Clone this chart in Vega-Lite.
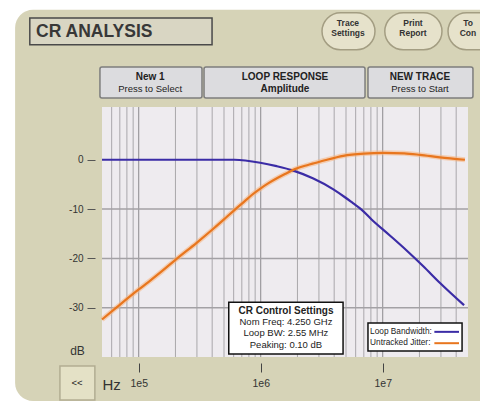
{
  "$schema": "https://vega.github.io/schema/vega-lite/v6.json",
  "width": 366,
  "height": 250,
  "autosize": {"type": "none"},
  "padding": {"left": 102, "top": 107, "right": 12, "bottom": 47},
  "background": "#ffffff",
  "config": {
    "view": {"fill": null, "stroke": "#7a7a72", "strokeWidth": 1.5},
    "font": "Liberation Sans",
    "text": {"font": "Liberation Sans"}
  },
  "datasets": {
    "curves": [
      {"f": 50000, "db": 0, "series": "Loop Bandwidth:"},
      {"f": 200000, "db": 0, "series": "Loop Bandwidth:"},
      {"f": 610000, "db": 0, "series": "Loop Bandwidth:"},
      {"f": 990000, "db": -0.6, "series": "Loop Bandwidth:"},
      {"f": 1350000, "db": -1.3, "series": "Loop Bandwidth:"},
      {"f": 1850000, "db": -2.2, "series": "Loop Bandwidth:"},
      {"f": 2700000, "db": -3.8, "series": "Loop Bandwidth:"},
      {"f": 3940000, "db": -6.0, "series": "Loop Bandwidth:"},
      {"f": 4900000, "db": -7.6, "series": "Loop Bandwidth:"},
      {"f": 5700000, "db": -8.8, "series": "Loop Bandwidth:"},
      {"f": 6700000, "db": -10.1, "series": "Loop Bandwidth:"},
      {"f": 8100000, "db": -12.1, "series": "Loop Bandwidth:"},
      {"f": 11500000, "db": -15.4, "series": "Loop Bandwidth:"},
      {"f": 15700000, "db": -18.4, "series": "Loop Bandwidth:"},
      {"f": 21500000, "db": -21.6, "series": "Loop Bandwidth:"},
      {"f": 29500000, "db": -25.0, "series": "Loop Bandwidth:"},
      {"f": 46400000, "db": -29.5, "series": "Loop Bandwidth:"},
      {"f": 50000, "db": -32.4, "series": "Untracked Jitter:"},
      {"f": 64000, "db": -30.2, "series": "Untracked Jitter:"},
      {"f": 100000, "db": -26.3, "series": "Untracked Jitter:"},
      {"f": 120000, "db": -24.8, "series": "Untracked Jitter:"},
      {"f": 155000, "db": -22.6, "series": "Untracked Jitter:"},
      {"f": 200000, "db": -20.3, "series": "Untracked Jitter:"},
      {"f": 300000, "db": -16.8, "series": "Untracked Jitter:"},
      {"f": 400000, "db": -14.2, "series": "Untracked Jitter:"},
      {"f": 500000, "db": -12.1, "series": "Untracked Jitter:"},
      {"f": 615000, "db": -10.1, "series": "Untracked Jitter:"},
      {"f": 740000, "db": -8.4, "series": "Untracked Jitter:"},
      {"f": 840000, "db": -7.2, "series": "Untracked Jitter:"},
      {"f": 1000000, "db": -5.8, "series": "Untracked Jitter:"},
      {"f": 1150000, "db": -4.8, "series": "Untracked Jitter:"},
      {"f": 1580000, "db": -2.9, "series": "Untracked Jitter:"},
      {"f": 1910000, "db": -1.9, "series": "Untracked Jitter:"},
      {"f": 2400000, "db": -1.1, "series": "Untracked Jitter:"},
      {"f": 2790000, "db": -0.65, "series": "Untracked Jitter:"},
      {"f": 3360000, "db": -0.1, "series": "Untracked Jitter:"},
      {"f": 4750000, "db": 0.8, "series": "Untracked Jitter:"},
      {"f": 7000000, "db": 1.25, "series": "Untracked Jitter:"},
      {"f": 10100000, "db": 1.4, "series": "Untracked Jitter:"},
      {"f": 15000000, "db": 1.3, "series": "Untracked Jitter:"},
      {"f": 20200000, "db": 1.0, "series": "Untracked Jitter:"},
      {"f": 29400000, "db": 0.5, "series": "Untracked Jitter:"},
      {"f": 47200000, "db": 0, "series": "Untracked Jitter:"}
    ],
    "gridx": [
      {"f": 60000, "kind": "minor"}, {"f": 70000, "kind": "minor"}, {"f": 80000, "kind": "minor"}, {"f": 90000, "kind": "minor"},
      {"f": 100000, "kind": "major"},
      {"f": 200000, "kind": "minor"}, {"f": 300000, "kind": "minor"}, {"f": 400000, "kind": "minor"}, {"f": 500000, "kind": "minor"},
      {"f": 600000, "kind": "minor"}, {"f": 700000, "kind": "minor"}, {"f": 800000, "kind": "minor"}, {"f": 900000, "kind": "minor"},
      {"f": 1000000, "kind": "major"},
      {"f": 2000000, "kind": "minor"}, {"f": 3000000, "kind": "minor"}, {"f": 4000000, "kind": "minor"}, {"f": 5000000, "kind": "minor"},
      {"f": 6000000, "kind": "minor"}, {"f": 7000000, "kind": "minor"}, {"f": 8000000, "kind": "minor"}, {"f": 9000000, "kind": "minor"},
      {"f": 10000000, "kind": "major"},
      {"f": 20000000, "kind": "minor"}, {"f": 30000000, "kind": "minor"}, {"f": 40000000, "kind": "minor"}
    ],
    "gridy": [{"db": -10}, {"db": -20}, {"db": -30}],
    "boxes": [
      {"kind": "panel", "f1": 9700, "f2": 200000000, "d1": 30.4, "d2": -48.9},
      {"kind": "plotbg", "f1": 50000, "f2": 50000000, "d1": 10.7, "d2": -40},
      {"kind": "titlebox", "f1": 12800, "f2": 399000, "d1": 28.75, "d2": 23.3},
      {"kind": "round", "f1": 3180000, "f2": 8640000, "d1": 29.8, "d2": 22.3},
      {"kind": "round", "f1": 10400000, "f2": 30600000, "d1": 29.8, "d2": 22.3},
      {"kind": "round", "f1": 34300000, "f2": 91500000, "d1": 29.8, "d2": 22.3},
      {"kind": "flat", "f1": 48100, "f2": 330000, "d1": 18.8, "d2": 12.5},
      {"kind": "flat", "f1": 343000, "f2": 7160000, "d1": 18.8, "d2": 12.5},
      {"kind": "flat", "f1": 7570000, "f2": 54900000, "d1": 18.8, "d2": 12.5},
      {"kind": "back", "f1": 22600, "f2": 43700, "d1": -41.8, "d2": -48.7},
      {"kind": "info", "f1": 547000, "f2": 4730000, "d1": -28.9, "d2": -39.4},
      {"kind": "legend", "f1": 7570000, "f2": 44700000, "d1": -33.1, "d2": -38.8}
    ],
    "labels": [
      {"t": "CR ANALYSIS", "f": 14400, "d": 25.9, "kind": "title"},
      {"t": "Trace", "f": 5190000, "d": 27.65, "kind": "round"},
      {"t": "Settings", "f": 5190000, "d": 25.8, "kind": "round"},
      {"t": "Print", "f": 17700000, "d": 27.65, "kind": "round"},
      {"t": "Report", "f": 17700000, "d": 25.8, "kind": "round"},
      {"t": "To", "f": 50000000, "d": 27.65, "kind": "round"},
      {"t": "Con", "f": 50000000, "d": 25.8, "kind": "round"},
      {"t": "New 1", "f": 124000, "d": 16.7, "kind": "btnb"},
      {"t": "LOOP RESPONSE", "f": 1580000, "d": 16.7, "kind": "btnb"},
      {"t": "NEW TRACE", "f": 20200000, "d": 16.7, "kind": "btnb"},
      {"t": "Amplitude", "f": 1580000, "d": 14.45, "kind": "btnb"},
      {"t": "Press to Select", "f": 124000, "d": 14.45, "kind": "btn"},
      {"t": "Press to Start", "f": 20200000, "d": 14.45, "kind": "btn"},
      {"t": "<<", "f": 31200, "d": -45.3, "kind": "back"},
      {"t": "CR Control Settings", "f": 1610000, "d": -30.6, "kind": "infob"},
      {"t": "Nom Freq: 4.250 GHz", "f": 1610000, "d": -32.85, "kind": "info"},
      {"t": "Loop BW: 2.55 MHz", "f": 1610000, "d": -35.2, "kind": "info"},
      {"t": "Peaking: 0.10 dB", "f": 1610000, "d": -37.6, "kind": "info"},
      {"t": "Loop Bandwidth:", "f": 7870000, "d": -34.9, "kind": "legend"},
      {"t": "Untracked Jitter:", "f": 7870000, "d": -37.2, "kind": "legend"}
    ],
    "legendlines": [
      {"series": "Loop Bandwidth:", "f1": 26500000, "f2": 42200000, "d": -34.9},
      {"series": "Untracked Jitter:", "f1": 26500000, "f2": 42200000, "d": -37.2}
    ]
  },
  "layer": [
    {
      "data": {"name": "boxes"},
      "transform": [{"filter": "datum.kind == 'panel'"}],
      "mark": {"type": "rect", "fill": "#d6d3b7", "cornerRadius": 18},
      "encoding": {
        "x": {
          "field": "f1", "type": "quantitative",
          "scale": {"type": "log", "domain": [50000, 50000000], "nice": false},
          "axis": {
            "zindex": 1,
            "values": [100000, 1000000, 10000000],
            "labelExpr": "datum.value == 100000 ? '1e5' : datum.value == 1000000 ? '1e6' : '1e7'",
            "grid": false, "domain": false, "offset": 6, "tickSize": 9, "tickColor": "#444444", "tickWidth": 1,
            "labelPadding": 6, "labelFontSize": 10.5, "labelColor": "#333333", "labelFlush": false, "labelOverlap": false,
            "title": "Hz", "titleFontSize": 15, "titleFontWeight": "normal", "titleColor": "#333333",
            "titleAnchor": "start", "titleAlign": "left", "titleX": 0, "titleY": 21, "titleBaseline": "middle"
          }
        },
        "x2": {"field": "f2"},
        "y": {
          "field": "d1", "type": "quantitative",
          "scale": {"domain": [-40, 10.7], "nice": false, "zero": false},
          "axis": {
            "zindex": 1,
            "values": [0, -10, -20, -30],
            "labelExpr": "datum.value + ''",
            "grid": false, "domain": false, "offset": 7, "tickSize": 8, "tickColor": "#555555", "tickWidth": 1,
            "labelPadding": 4, "labelFontSize": 10, "labelColor": "#333333",
            "title": "dB", "titleAngle": 0, "titleX": -18, "titleY": 243, "titleAlign": "center", "titleBaseline": "middle",
            "titleFontSize": 12, "titleFontWeight": "normal", "titleColor": "#333333"
          }
        },
        "y2": {"field": "d2"}
      }
    },
    {
      "data": {"name": "boxes"},
      "transform": [{"filter": "datum.kind == 'plotbg'"}],
      "mark": {"type": "rect", "fill": "#eeebef"},
      "encoding": {
        "x": {"field": "f1", "type": "quantitative"},
        "x2": {"field": "f2"},
        "y": {"field": "d1", "type": "quantitative"},
        "y2": {"field": "d2"}
      }
    },
    {
      "data": {"name": "boxes"},
      "transform": [{"filter": "datum.kind == 'titlebox'"}],
      "mark": {"type": "rect", "fill": "#d9d6c3", "stroke": "#4a4a4a", "strokeWidth": 1.5},
      "encoding": {
        "x": {"field": "f1", "type": "quantitative"},
        "x2": {"field": "f2"},
        "y": {"field": "d1", "type": "quantitative"},
        "y2": {"field": "d2"}
      }
    },
    {
      "data": {"name": "boxes"},
      "transform": [{"filter": "datum.kind == 'round'"}],
      "mark": {"type": "rect", "fill": "#e6e2cb", "stroke": "#a39d82", "strokeWidth": 1.5, "cornerRadius": 19},
      "encoding": {
        "x": {"field": "f1", "type": "quantitative"},
        "x2": {"field": "f2"},
        "y": {"field": "d1", "type": "quantitative"},
        "y2": {"field": "d2"}
      }
    },
    {
      "data": {"name": "boxes"},
      "transform": [{"filter": "datum.kind == 'flat'"}],
      "mark": {"type": "rect", "fill": "#dcdcdf", "stroke": "#7d7d7d", "strokeWidth": 1.5, "cornerRadius": 2},
      "encoding": {
        "x": {"field": "f1", "type": "quantitative"},
        "x2": {"field": "f2"},
        "y": {"field": "d1", "type": "quantitative"},
        "y2": {"field": "d2"}
      }
    },
    {
      "data": {"name": "boxes"},
      "transform": [{"filter": "datum.kind == 'back'"}],
      "mark": {"type": "rect", "fill": "#e4e1c6", "stroke": "#b2ad92", "strokeWidth": 1.5},
      "encoding": {
        "x": {"field": "f1", "type": "quantitative"},
        "x2": {"field": "f2"},
        "y": {"field": "d1", "type": "quantitative"},
        "y2": {"field": "d2"}
      }
    },
    {
      "data": {"name": "gridx"},
      "transform": [{"filter": "datum.kind == 'minor'"}],
      "mark": {"type": "rule", "color": "#a9a7ab", "strokeWidth": 1},
      "encoding": {"x": {"field": "f", "type": "quantitative"}}
    },
    {
      "data": {"name": "gridx"},
      "transform": [{"filter": "datum.kind == 'major'"}],
      "mark": {"type": "rule", "color": "#8c8a8e", "strokeWidth": 1},
      "encoding": {"x": {"field": "f", "type": "quantitative"}}
    },
    {
      "data": {"name": "gridy"},
      "mark": {"type": "rule", "color": "#a3a1a5", "strokeWidth": 1.5},
      "encoding": {"y": {"field": "db", "type": "quantitative"}}
    },
    {
      "mark": {"type": "rule", "color": "#767478", "strokeWidth": 1.5},
      "encoding": {"y": {"datum": 0, "type": "quantitative"}}
    },
    {
      "mark": {"type": "rule", "color": "#5ec4d6", "strokeWidth": 1.5, "strokeDash": [3, 3]},
      "encoding": {"y": {"datum": -2.5, "type": "quantitative"}}
    },
    {
      "mark": {"type": "rule", "color": "#3a2a36", "strokeWidth": 3},
      "encoding": {"x": {"datum": 50000, "type": "quantitative"}}
    },
    {
      "data": {"name": "curves"},
      "transform": [{"filter": "datum.series == 'Untracked Jitter:'"}],
      "mark": {"type": "line", "color": "#f7b480", "strokeWidth": 5, "opacity": 0.55, "interpolate": "monotone"},
      "encoding": {
        "x": {"field": "f", "type": "quantitative"},
        "y": {"field": "db", "type": "quantitative"}
      }
    },
    {
      "data": {"name": "curves"},
      "mark": {"type": "line", "strokeWidth": 2.2, "interpolate": "monotone"},
      "encoding": {
        "x": {"field": "f", "type": "quantitative"},
        "y": {"field": "db", "type": "quantitative"},
        "color": {"field": "series", "type": "nominal", "scale": {"domain": ["Loop Bandwidth:", "Untracked Jitter:"], "range": ["#3b2ca6", "#e8761e"]}, "legend": null}
      }
    },
    {
      "data": {"name": "boxes"},
      "transform": [{"filter": "datum.kind == 'info' || datum.kind == 'legend'"}],
      "mark": {"type": "rect", "fill": "#ffffff", "stroke": "#111111", "strokeWidth": 1.5},
      "encoding": {
        "x": {"field": "f1", "type": "quantitative"},
        "x2": {"field": "f2"},
        "y": {"field": "d1", "type": "quantitative"},
        "y2": {"field": "d2"}
      }
    },
    {
      "data": {"name": "legendlines"},
      "mark": {"type": "rule", "strokeWidth": 2},
      "encoding": {
        "x": {"field": "f1", "type": "quantitative"},
        "x2": {"field": "f2"},
        "y": {"field": "d", "type": "quantitative"},
        "color": {"field": "series", "type": "nominal", "legend": null}
      }
    },
    {
      "data": {"name": "labels"},
      "transform": [{"filter": "datum.kind == 'title'"}],
      "mark": {"type": "text", "align": "left", "baseline": "middle", "fontSize": 17.5, "fontWeight": "bold", "color": "#383838"},
      "encoding": {
        "x": {"field": "f", "type": "quantitative"},
        "y": {"field": "d", "type": "quantitative"},
        "text": {"field": "t"}
      }
    },
    {
      "data": {"name": "labels"},
      "transform": [{"filter": "datum.kind == 'round'"}],
      "mark": {"type": "text", "align": "center", "baseline": "middle", "fontSize": 8.5, "fontWeight": "bold", "color": "#333333"},
      "encoding": {
        "x": {"field": "f", "type": "quantitative"},
        "y": {"field": "d", "type": "quantitative"},
        "text": {"field": "t"}
      }
    },
    {
      "data": {"name": "labels"},
      "transform": [{"filter": "datum.kind == 'btnb' || datum.kind == 'infob'"}],
      "mark": {"type": "text", "align": "center", "baseline": "middle", "fontSize": 10, "fontWeight": "bold", "color": "#222222"},
      "encoding": {
        "x": {"field": "f", "type": "quantitative"},
        "y": {"field": "d", "type": "quantitative"},
        "text": {"field": "t"}
      }
    },
    {
      "data": {"name": "labels"},
      "transform": [{"filter": "datum.kind == 'btn' || datum.kind == 'info' || datum.kind == 'back'"}],
      "mark": {"type": "text", "align": "center", "baseline": "middle", "fontSize": 9.5, "color": "#222222"},
      "encoding": {
        "x": {"field": "f", "type": "quantitative"},
        "y": {"field": "d", "type": "quantitative"},
        "text": {"field": "t"}
      }
    },
    {
      "data": {"name": "labels"},
      "transform": [{"filter": "datum.kind == 'legend'"}],
      "mark": {"type": "text", "align": "left", "baseline": "middle", "fontSize": 8.3, "color": "#222222"},
      "encoding": {
        "x": {"field": "f", "type": "quantitative"},
        "y": {"field": "d", "type": "quantitative"},
        "text": {"field": "t"}
      }
    }
  ]
}
